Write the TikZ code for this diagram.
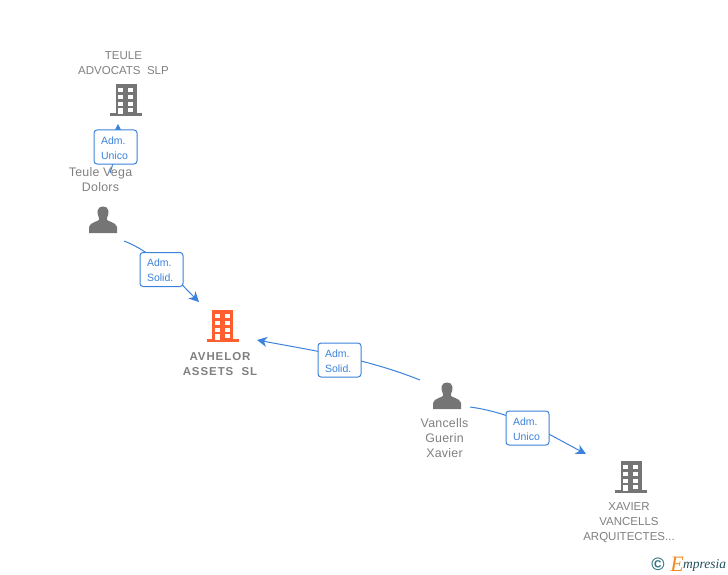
\documentclass[tikz,border=0pt]{standalone}
\usepackage{fontspec}
\setmainfont{Liberation Sans}
\newfontfamily\logofont{Liberation Serif}
\newfontfamily\persfont[LetterSpace=2]{Liberation Sans}
\newfontfamily\boldcapfont[LetterSpace=8]{Liberation Sans Bold}
\usetikzlibrary{arrows.meta}
\definecolor{lblgray}{HTML}{7F7F7F}
\definecolor{icongray}{HTML}{757575}
\definecolor{linkblue}{HTML}{3B82DC}
\definecolor{bldorange}{HTML}{FF5F2E}
\definecolor{logoteal}{HTML}{2E6F80}
\definecolor{logoorange}{HTML}{F28A1E}
\tikzset{
  x=1pt,y=-1pt,
  caption/.style={text=lblgray,font=\fontsize{11.5}{15}\selectfont,align=center,inner sep=0pt},
  perscaption/.style={caption,font=\persfont\fontsize{12.4}{15}\selectfont},
  boldcaption/.style={caption,font=\boldcapfont\fontsize{11.5}{15.5}\selectfont},
  rolebox/.style={draw=linkblue,line width=1pt,rounded corners=3pt,fill=white,text=linkblue,
    font=\fontsize{10.5}{15}\selectfont,align=left,text width=29pt,minimum width=43pt,minimum height=34pt,inner sep=0pt},
  link/.style={draw=linkblue,line width=1pt},
  linkhead/.style={link,-{Stealth[length=10pt,width=10pt,inset=3pt]}},
  pics/bld/.style={code={
    \fill[#1] (-10.5,-16) rectangle (10.5,14);
    \fill[#1] (-16,13.2) rectangle (16,16);
    \foreach \yy in {-11.7,-5,1.7} \foreach \xx in {-7.7,2.3}
      \fill[white] (\xx,\yy) rectangle ++(5,4);
    \fill[white] (-7.7,8.3) rectangle (-2.7,14);
    \fill[white] (2.3,8.3) rectangle (7.3,12);
  }},
  pics/person/.style={code={
    \fill[icongray] (0,-13.5) .. controls (-5,-13.5) and (-6.2,-9) .. (-5.2,-5.5)
      .. controls (-4.7,-3.5) and (-3.8,-2) .. (-3.8,-0.5)
      .. controls (-4,1.5) and (-13,2) .. (-14,7) -- (-14,13) -- (14,13) -- (14,7)
      .. controls (13,2) and (4,1.5) .. (3.8,-0.5)
      .. controls (3.8,-2) and (4.7,-3.5) .. (5.2,-5.5)
      .. controls (6.2,-9) and (5,-13.5) .. (0,-13.5) -- cycle;
  }},
}
\newcommand{\rlstrut}{\rule{0pt}{9.5pt}}
\begin{document}
\begin{tikzpicture}
\useasboundingbox (0,0) rectangle (728,575);
% end points
\coordinate (s1) at (110,173); \coordinate (e1) at (118,124);
\coordinate (s2) at (124,241); \coordinate (e2) at (199,302);
\coordinate (s3) at (420,380); \coordinate (e3) at (257,340);
\coordinate (s4) at (470,407); \coordinate (e4) at (586,454);
% connectors
\draw[linkhead] (s1) .. controls (116,155) and (118,140) .. (e1);
\draw[linkhead] (s2) .. controls (155,253) and (175,278) .. (e2);
\draw[linkhead] (s3) .. controls (365,358) and (310,350) .. (e3);
\draw[linkhead] (s4) .. controls (515,413) and (550,435) .. (e4);
% role labels
\node[rolebox] (r1) at (115.5,147) {\rlstrut Adm.\\Unico};
\node[rolebox] (r2) at (161.5,269.5) {\rlstrut Adm.\\Solid.};
\node[rolebox] (r3) at (339.5,360) {\rlstrut Adm.\\Solid.};
\node[rolebox] (r4) at (527.5,428) {\rlstrut Adm.\\Unico};
% icons
\pic at (126,100) {bld=icongray};
\pic at (222.5,326) {bld=bldorange};
\pic at (631,477) {bld=icongray};
\pic at (103,220) {person};
\pic at (447,396) {person};
% captions
\node[caption] (c1) at (123.5,63) {TEULE\\ADVOCATS\ \ SLP};
\node[perscaption] (c2) at (100.5,180) {Teule Vega\\Dolors};
\node[boldcaption] (c3) at (220,364) {AVHELOR\\ASSETS\ \ SL};
\node[perscaption] (c4) at (444.5,438.5) {Vancells\\Guerin\\Xavier};
\node[caption] (c5) at (629,522.5) {XAVIER\\VANCELLS\\ARQUITECTES...};
% logo
\node[text=logoteal,font=\bfseries\fontsize{18}{18}\selectfont,inner sep=0pt] (lg1) at (658,564) {©};
\node[text=logoorange,font=\logofont\itshape\fontsize{22}{22}\selectfont,inner sep=0pt] (lg2) at (677,564) {E};
\node[text=logoteal!70!black,font=\logofont\itshape\fontsize{13.5}{13.5}\selectfont,inner sep=0pt,anchor=west] (lg3) at (683,565) {mpresia};
\end{tikzpicture}
\end{document}
